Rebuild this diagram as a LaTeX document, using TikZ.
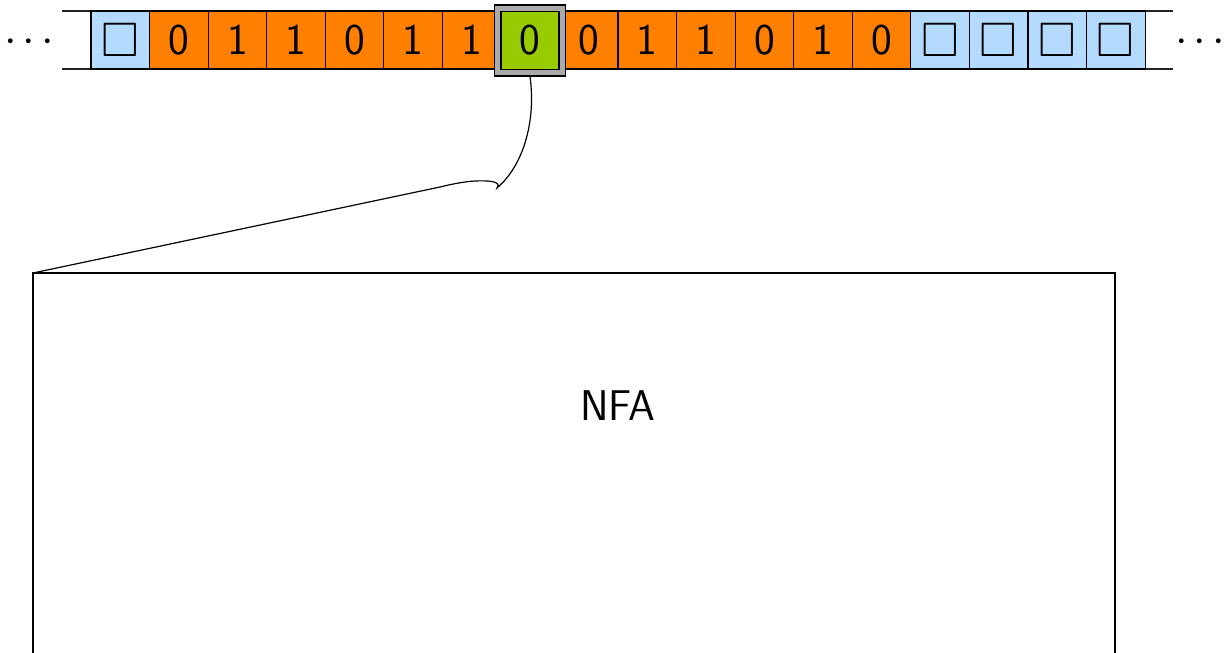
\documentclass[tikz,border=0pt]{standalone}
\usepackage{amssymb}
\definecolor{blankblue}{HTML}{B4DAFD}
\definecolor{symorange}{HTML}{FF8000}
\definecolor{headgreen}{HTML}{99CC00}
\definecolor{headgrey}{HTML}{AAAAAA}
\tikzset{
  cell/.style={draw=black, line width=1.1pt, minimum width=58.56pt, minimum height=58pt, inner sep=0pt, font=\fontsize{44}{44}\sffamily\selectfont},
  blankcell/.style={cell, fill=blankblue},
  symcell/.style={cell, fill=symorange},
  headcell/.style={cell, fill=headgreen, line width=1.4pt, minimum width=58pt, minimum height=58pt},
  tapeline/.style={line width=1.3pt, draw=black!85},
  bigtext/.style={font=\fontsize{43}{43}\sffamily\selectfont},
  dotsnode/.style={inner sep=0pt},
}
\newcommand{\blanksym}{\scalebox{1.1}{$\square$}}
\newcommand{\onedot}{\scalebox{4.5}{$\cdot$}}
\newcommand{\tapedots}{\onedot\hspace{6pt}\onedot\hspace{6pt}\onedot}
\begin{document}
\begin{tikzpicture}[x=1pt,y=-1pt]
\useasboundingbox (0,0) rectangle (1224,653);
% tape border lines
\coordinate (tl1) at (62,11);
\coordinate (tl2) at (1173,11);
\coordinate (bl1) at (62,69);
\coordinate (bl2) at (1173,69);
\draw[tapeline] (tl1) -- (tl2);
\draw[tapeline] (bl1) -- (bl2);
% cells
\foreach \i/\s/\t in {0/blankcell/\blanksym,1/symcell/0,2/symcell/1,3/symcell/1,4/symcell/0,5/symcell/1,6/symcell/1,8/symcell/0,9/symcell/1,10/symcell/1,11/symcell/0,12/symcell/1,13/symcell/0,14/blankcell/\blanksym,15/blankcell/\blanksym,16/blankcell/\blanksym,17/blankcell/\blanksym}{
  \node[\s] (c\i) at ({91+58.56*\i+29.28},40) {\t};
}
% head frame and head cell
\node[draw=black, fill=headgrey, line width=1.4pt, minimum width=71pt, minimum height=71pt, inner sep=0pt] (head) at (530.04,40.5) {};
\node[headcell] (c7) at (530.04,40.5) {0};
% dots
\node[dotsnode] (dl) at (29,42) {\tapedots};
\node[dotsnode] (dr) at (1200,42) {\tapedots};
% NFA box
\coordinate (boxtl) at (33,273);
\coordinate (boxtr) at (1115,273);
\coordinate (boxbl) at (33,660);
\coordinate (boxbr) at (1115,660);
\draw[line width=1.2pt] (boxbl) -- (boxtl) -- (boxtr) -- (boxbr);
\node[bigtext] (nfa) at (618,406) {NFA};
% connector (half brace)
\coordinate (tip) at (497,188);
\draw[line width=1.2pt] (head.south) .. controls (536,120) and (524,165) .. (tip)
  .. controls (500,184) and (498,180) .. (475,181)
  .. controls (465,181.5) and (452,184) .. (440,187)
  -- (boxtl);
\end{tikzpicture}
\end{document}
